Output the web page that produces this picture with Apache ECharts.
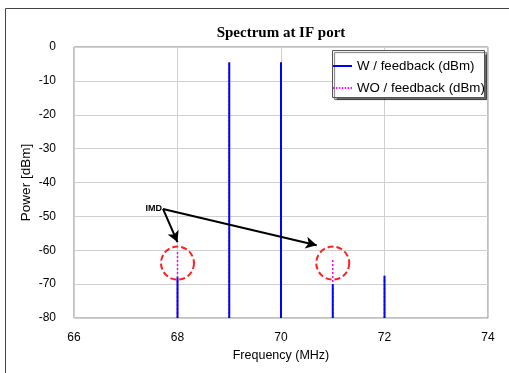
<!DOCTYPE html>
<html>
<head>
<meta charset="utf-8">
<script src="https://cdn.jsdelivr.net/npm/echarts@6/dist/echarts.min.js"></script>
<style>
  html, body { margin: 0; padding: 0; background: #fff; }
  #chart { width: 509px; height: 373px; }
</style>
</head>
<body>
<div id="chart"></div>
<script>
// Tone frequencies (MHz) and measured power levels (dBm)
const freqs = [68, 69, 70, 71, 72];
const withFeedback = [-68, -4.5, -4.5, -70, -67.5];
const withoutFeedback = [-60, -5, -5, -62.5, -68];

const seriesNames = ['W / feedback (dBm)', 'WO / feedback (dBm)'];
const xTicks = [66, 74, 2];      // min, max, step
const yTicks = [-80, 0, 10];     // min, max, step

// IMD callout: label anchor, arrow tips and highlighted products (data coords)
const imdLabel = [67.72, -47.8];
const imdArrowTips = [[68, -57.6], [70.69, -58.5]];
const imdCircles = [[68, -63.8], [71, -63.8]];

const FONT = '"Liberation Sans", Arial, sans-serif';

function spikeRenderer(color, width, dash) {
  return function (params, api) {
    const f = api.value(0), p = api.value(1);
    const base = api.coord([f, yTicks[0]]);
    const top = api.coord([f, p]);
    return {
      type: 'line',
      shape: { x1: base[0], y1: base[1], x2: top[0], y2: top[1] },
      style: { stroke: color, lineWidth: width, lineDash: dash }
    };
  };
}

let dotIcon = 'path://';
for (let i = 0; i < 7; i++) dotIcon += 'M' + (i * 3) + ',0h1.5v2h-1.5z';

const chart = echarts.init(document.getElementById('chart'), null, { renderer: 'canvas' });
chart.setOption({
  animation: false,
  backgroundColor: '#fff',
  grid: {
    left: 74, top: 47, right: 21, bottom: 55,
    show: true, borderColor: '#808080', borderWidth: 1
  },
  xAxis: {
    type: 'value', min: xTicks[0], max: xTicks[1], interval: xTicks[2],
    axisLine: { show: false }, axisTick: { show: false },
    splitLine: { show: true, lineStyle: { color: '#d0d0d0', width: 1 } },
    axisLabel: { fontSize: 12, color: '#000', margin: 14, fontFamily: FONT },
    name: 'Frequency (MHz)', nameLocation: 'middle', nameGap: 31, nameMoveOverlap: false,
    nameTextStyle: { fontSize: 12.5, color: '#000', fontFamily: FONT }
  },
  yAxis: {
    type: 'value', min: yTicks[0], max: yTicks[1], interval: yTicks[2],
    axisLine: { show: false }, axisTick: { show: false },
    splitLine: { show: true, lineStyle: { color: '#d0d0d0', width: 1 } },
    axisLabel: { fontSize: 12, color: '#000', margin: 18, fontFamily: FONT },
    name: 'Power [dBm]', nameLocation: 'middle', nameGap: 41, nameMoveOverlap: false,
    nameTextStyle: { fontSize: 13.5, color: '#000', fontFamily: FONT }
  },
  legend: {
    orient: 'vertical', left: 333, top: 59, z: 6,
    padding: 0, itemGap: 8, itemWidth: 19, itemHeight: 2,
    textStyle: { fontSize: 13.3, color: '#000', fontFamily: FONT, lineHeight: 14 },
    data: [
      { name: seriesNames[0], icon: 'path://M0,0h19v2h-19z' },
      { name: seriesNames[1], icon: dotIcon }
    ]
  },
  graphic: [
    {
      type: 'rect', z: 0, silent: true,
      shape: { x: 5.5, y: 8.5, width: 700, height: 500 },
      style: { fill: 'none', stroke: '#444', lineWidth: 1 }
    },
    {
      type: 'text', z: 5, silent: true,
      style: {
        text: 'Spectrum at IF port', x: 281, y: 33,
        align: 'center', verticalAlign: 'middle',
        font: 'bold 15px "Liberation Serif", "Times New Roman", serif', fill: '#000'
      }
    },
    {
      type: 'rect', z: 5, silent: true,
      shape: { x: 332.5, y: 50.5, width: 152, height: 47 },
      style: {
        fill: '#fff', stroke: '#555', lineWidth: 1,
        shadowColor: 'rgba(0,0,0,0.55)', shadowOffsetX: 2, shadowOffsetY: 2, shadowBlur: 1
      }
    }
  ],
  series: [
    {
      name: seriesNames[1], type: 'custom', z: 2,
      itemStyle: { color: '#ff00ff' },
      renderItem: spikeRenderer('#ff00ff', 1.5, [2, 2]),
      encode: { x: 0, y: 1 },
      data: freqs.map((f, i) => [f, withoutFeedback[i]])
    },
    {
      name: seriesNames[0], type: 'custom', z: 3,
      itemStyle: { color: '#0000ff' },
      renderItem: spikeRenderer('#0000ff', 2, null),
      encode: { x: 0, y: 1 },
      data: freqs.map((f, i) => [f, withFeedback[i]])
    },
    {
      name: 'imd', type: 'line', data: [], z: 4, silent: true,
      markLine: {
        silent: true, animation: false,
        symbol: ['none', 'arrow'], symbolSize: [9, 11],
        lineStyle: { color: '#000', width: 2, type: 'solid' },
        label: { show: false },
        data: imdArrowTips.map(t => [{ coord: imdLabel }, { coord: t }])
      },
      markPoint: {
        silent: true, animation: false,
        data: imdCircles.map(c => ({
          coord: c, symbol: 'circle', symbolSize: 33,
          itemStyle: { color: 'rgba(0,0,0,0)', borderColor: '#ff2020', borderWidth: 2, borderType: [6, 3] },
          label: { show: false }
        })).concat([{
          coord: imdLabel, symbol: 'circle', symbolSize: 0,
          label: {
            show: true, formatter: 'IMD', position: 'left', distance: 1,
            fontSize: 9, fontWeight: 'bold', color: '#000', fontFamily: FONT
          }
        }])
      }
    }
  ]
});
</script>
</body>
</html>
